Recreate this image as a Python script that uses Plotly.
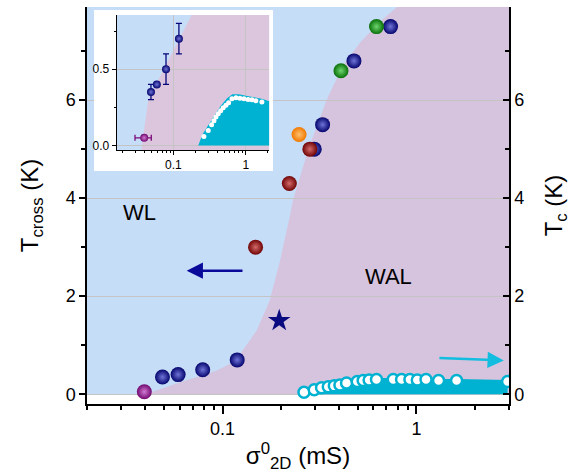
import math
import plotly.graph_objects as go

# ---------------- data ----------------
# main panel : T_cross (balls) vs sigma_2D^0
navy_x = [0.049, 0.059, 0.079, 0.119, 0.297, 0.328, 0.476, 0.735]
navy_y = [0.35, 0.40, 0.50, 0.70, 5.0, 5.5, 6.8, 7.5]
maroon_x = [0.148, 0.221, 0.282]
maroon_y = [3.0, 4.3, 5.0]
green_x = [0.408, 0.622]
green_y = [6.6, 7.5]
orange_x = [0.248]
orange_y = [5.3]
purple_x = [0.0395]
purple_y = [0.05]
star_x = [0.196]
star_y = [1.5]

# main panel : Tc (open cyan circles, right axis)
tc_x = [0.263, 0.297, 0.324, 0.351, 0.377, 0.403, 0.436, 0.495, 0.531, 0.570,
        0.622, 0.759, 0.838, 0.925, 1.01, 1.12, 1.30, 1.61, 2.95]
tc_y = [0.04, 0.09, 0.13, 0.15, 0.17, 0.19, 0.23, 0.26, 0.28, 0.29,
        0.30, 0.30, 0.30, 0.30, 0.29, 0.30, 0.28, 0.28, 0.26]

# WL / WAL boundary (main)
bound_x = [0.040, 0.060, 0.093, 0.118, 0.127, 0.150, 0.175, 0.198, 0.222, 0.231,
           0.277, 0.344, 0.417, 0.511, 0.647, 0.793]
bound_y = [0.0, 0.24, 0.48, 0.69, 0.89, 1.30, 1.91, 2.73, 3.62, 3.96,
           5.0, 6.0, 6.7, 7.17, 7.6, 7.9]

# inset data
in_ball_x = [0.049, 0.059, 0.079, 0.119]
in_ball_y = [0.35, 0.40, 0.50, 0.70]
in_ball_err = [0.05, 0.0, 0.10, 0.10]
in_purple_x = [0.0395]
in_purple_y = [0.05]
in_purple_errx = [0.01]
in_tc_x = [0.263, 0.302, 0.336, 0.362, 0.386, 0.415, 0.448, 0.486, 0.530, 0.577,
           0.641, 0.728, 0.826, 0.938, 1.07, 1.21, 1.37, 1.66]
in_tc_y = [0.059, 0.098, 0.135, 0.162, 0.186, 0.207, 0.227, 0.247, 0.264, 0.279,
           0.306, 0.312, 0.310, 0.306, 0.301, 0.299, 0.293, 0.284]
in_dome_x = [0.22, 0.25, 0.30, 0.36, 0.45, 0.55, 0.65, 0.80, 1.0, 1.3, 1.7, 2.1]
in_dome_y = [0.0, 0.07, 0.13, 0.19, 0.26, 0.31, 0.335, 0.335, 0.325, 0.315, 0.305, 0.29]
in_bound_x = [0.036, 0.045, 0.09, 0.18]
in_bound_y = [-0.03, 0.30, 0.58, 0.86]

# axes / ticks
X_RANGE = [0.02, 3.0]
Y_RANGE = [-0.2, 7.9]
IN_X_RANGE = [0.0165, 2.1]
IN_Y_RANGE = [-0.03, 0.855]
y_major = [0, 2, 4, 6]
y_minor = [1, 3, 5, 7]
x_major = [0.1, 1]
x_major_text = ["0.1", "1"]
x_minor = [0.02, 0.03, 0.04, 0.05, 0.06, 0.07, 0.08, 0.09,
           0.2, 0.3, 0.4, 0.5, 0.6, 0.7, 0.8, 0.9, 2, 3]
in_y_major = [0.0, 0.5]
in_y_minor = [0.25, 0.75]

# ---------------- style ----------------
BLUE_BG = "#c6ddf8"
PINK_BG = "#d6c3dd"
IN_PINK = "#dcc6de"
CYAN = "#00b2d2"
GRID = "#c4c4c4"
FONT = "Liberation Sans, Arial, sans-serif"

lx = [math.log10(v) for v in X_RANGE]
ilx = [math.log10(v) for v in IN_X_RANGE]

fig = go.Figure()

# ---- subplot A (x,y): background regions of the main panel
fig.add_trace(go.Scatter(x=X_RANGE, y=[Y_RANGE[1]] * 2, mode="none", fill="tozeroy",
                         fillcolor=BLUE_BG, xaxis="x", yaxis="y", hoverinfo="skip"))
pink_x = bound_x + [X_RANGE[1], X_RANGE[1]]
pink_y = bound_y + [Y_RANGE[1], 0.0]
fig.add_trace(go.Scatter(x=pink_x, y=pink_y, mode="none", fill="toself",
                         fillcolor=PINK_BG, xaxis="x", yaxis="y", hoverinfo="skip"))

# ---- subplot B (x2,y2): main axes with grid, data on top
def ball(xs, ys, dark, light, size=15, axes=("x2", "y2")):
    return go.Scatter(x=xs, y=ys, mode="markers", xaxis=axes[0], yaxis=axes[1],
                      marker=dict(size=size, color=dark, line=dict(width=0),
                                  gradient=dict(type="radial", color=light)))

fig.add_trace(ball(navy_x, navy_y, "#04046e", "#6f74d6"))
fig.add_trace(ball(maroon_x, maroon_y, "#700404", "#d46a6a"))
fig.add_trace(ball(green_x, green_y, "#087008", "#6fd66f"))
fig.add_trace(ball(orange_x, orange_y, "#f07800", "#ffc070"))
fig.add_trace(ball(purple_x, purple_y, "#700870", "#d27ad2"))
fig.add_trace(go.Scatter(x=star_x, y=star_y, mode="markers", xaxis="x2", yaxis="y2",
                         marker=dict(symbol="star", size=17, color="#0a0a80",
                                     line=dict(width=0))))

# Tc on right axis
fig.add_trace(go.Scatter(x=tc_x, y=tc_y, mode="lines+markers", xaxis="x2", yaxis="y6",
                         fill="tozeroy", fillcolor=CYAN,
                         line=dict(color=CYAN, width=3),
                         marker=dict(size=11, color="white",
                                     line=dict(color=CYAN, width=2.5))))

# ---- subplot E (x3,y3): white box behind inset
fig.add_trace(go.Scatter(x=[0, 1], y=[1, 1], mode="none", fill="tozeroy",
                         fillcolor="white", xaxis="x3", yaxis="y3", hoverinfo="skip"))

# ---- subplot F (x4,y4): inset background regions
in_blue_x = [IN_X_RANGE[0], IN_X_RANGE[1], IN_X_RANGE[1], IN_X_RANGE[0]]
in_blue_y = [IN_Y_RANGE[0], IN_Y_RANGE[0], IN_Y_RANGE[1], IN_Y_RANGE[1]]
fig.add_trace(go.Scatter(x=in_blue_x, y=in_blue_y, mode="none", fill="toself",
                         fillcolor=BLUE_BG, xaxis="x4", yaxis="y4", hoverinfo="skip"))
in_pink_x = in_bound_x + [IN_X_RANGE[1], IN_X_RANGE[1]]
in_pink_y = in_bound_y + [IN_Y_RANGE[1], IN_Y_RANGE[0]]
fig.add_trace(go.Scatter(x=in_pink_x, y=in_pink_y, mode="none", fill="toself",
                         fillcolor=IN_PINK, xaxis="x4", yaxis="y4", hoverinfo="skip"))

# ---- subplot D (x5,y5): inset data
fig.add_trace(go.Scatter(x=in_dome_x, y=in_dome_y, mode="none", fill="tozeroy",
                         fillcolor=CYAN, xaxis="x5", yaxis="y5", hoverinfo="skip"))
fig.add_trace(go.Scatter(x=in_tc_x, y=in_tc_y, mode="markers", xaxis="x5", yaxis="y5",
                         marker=dict(size=5, color="white", line=dict(width=0))))
fig.add_trace(go.Scatter(x=in_ball_x, y=in_ball_y, mode="markers", xaxis="x5", yaxis="y5",
                         error_y=dict(type="data", array=in_ball_err, color="#06067a",
                                      thickness=1.3, width=3),
                         marker=dict(size=8, color="#04046e", line=dict(width=0),
                                     gradient=dict(type="radial", color="#6f74d6"))))
fig.add_trace(go.Scatter(x=in_purple_x, y=in_purple_y, mode="markers", xaxis="x5", yaxis="y5",
                         error_x=dict(type="data", array=in_purple_errx, color="#7a0a7a",
                                      thickness=1.3, width=3),
                         marker=dict(size=8, color="#700870", line=dict(width=0),
                                     gradient=dict(type="radial", color="#d27ad2"))))

# ---------------- layout ----------------
W, H = 577, 476
L, R, T, B = 87, 68, 7, 72
pw, ph = W - L - R, H - T - B

def px2dom_x(p):
    return (p - L) / pw

def px2dom_y(p):
    return (H - B - p) / ph

inset_dom_x = [px2dom_x(116.7), px2dom_x(269.3)]
inset_dom_y = [px2dom_y(150), px2dom_y(15)]
box_dom_x = [px2dom_x(94), px2dom_x(273)]
box_dom_y = [px2dom_y(171), px2dom_y(10)]

tickfont = dict(family=FONT, size=18, color="black")
titlefont = dict(family=FONT, size=24, color="black")
hidden = dict(visible=False, showgrid=False, zeroline=False, fixedrange=True)
line_kw = dict(showline=True, linecolor="black", linewidth=1.5, zeroline=False)

fig.update_layout(
    width=W, height=H,
    margin=dict(l=L, r=R, t=T, b=B, pad=0),
    paper_bgcolor="white", plot_bgcolor="rgba(0,0,0,0)",
    showlegend=False,
    font=dict(family=FONT, color="black"),
    xaxis=dict(type="log", range=lx, domain=[0, 1], anchor="y", **hidden),
    yaxis=dict(range=Y_RANGE, domain=[0, 1], anchor="x", **hidden),
    xaxis2=dict(type="log", range=lx, domain=[0, 1], anchor="y2", showgrid=False,
                tickmode="array", tickvals=x_major, ticktext=x_major_text,
                ticks="outside", ticklen=8, tickwidth=1.5, tickcolor="black",
                minor=dict(tickmode="array", tickvals=x_minor, ticks="outside",
                           ticklen=4, tickwidth=1.5, tickcolor="black", showgrid=False),
                tickfont=tickfont,
                title=dict(text="σ<sup>0</sup><sub>2D</sub> (mS)", font=titlefont, standoff=9),
                **line_kw),
    yaxis2=dict(range=Y_RANGE, domain=[0, 1], anchor="x2",
                tickmode="array", tickvals=y_major, ticks="outside", ticklen=6,
                tickwidth=1.5, tickcolor="black",
                minor=dict(tickmode="array", tickvals=y_minor, ticks="outside",
                           ticklen=4, tickwidth=1.5, tickcolor="black", showgrid=False),
                showgrid=True, gridcolor=GRID, gridwidth=1.2,
                tickfont=tickfont,
                title=dict(text="T<sub>cross</sub> (K)", font=titlefont, standoff=20),
                **line_kw),
    xaxis6=dict(type="log", range=lx, overlaying="x2", side="top", anchor="y2",
                showgrid=False, showticklabels=False,
                tickmode="array", tickvals=x_major, ticks="inside", ticklen=8,
                tickwidth=1.5, tickcolor="black",
                minor=dict(tickmode="array", tickvals=x_minor, ticks="inside",
                           ticklen=4, tickwidth=1.5, tickcolor="black", showgrid=False),
                **line_kw),
    yaxis6=dict(range=Y_RANGE, overlaying="y2", side="right", anchor="x2",
                showgrid=False, tickmode="array", tickvals=y_major, ticks="inside",
                ticklen=6, tickwidth=1.5, tickcolor="black",
                minor=dict(tickmode="array", tickvals=y_minor, ticks="inside",
                           ticklen=4, tickwidth=1.5, tickcolor="black", showgrid=False),
                tickfont=tickfont,
                title=dict(text="T<sub>c</sub> (K)", font=titlefont, standoff=22),
                **line_kw),
    xaxis3=dict(range=[0, 1], domain=box_dom_x, anchor="y3", **hidden),
    yaxis3=dict(range=[0, 1], domain=box_dom_y, anchor="x3", **hidden),
    xaxis4=dict(type="log", range=ilx, domain=inset_dom_x, anchor="y4", **hidden),
    yaxis4=dict(range=IN_Y_RANGE, domain=inset_dom_y, anchor="x4", **hidden),
    xaxis5=dict(type="log", range=ilx, domain=inset_dom_x, anchor="y5",
                showgrid=True, gridcolor=GRID, gridwidth=1,
                tickmode="array", tickvals=x_major, ticktext=x_major_text,
                ticks="outside", ticklen=4, tickwidth=1, tickcolor="black",
                minor=dict(tickmode="array", tickvals=x_minor, ticks="outside",
                           ticklen=2, tickwidth=1, tickcolor="black", showgrid=False),
                tickfont=dict(family=FONT, size=12, color="black"),
                showline=True, linecolor="black", linewidth=1, zeroline=False),
    yaxis5=dict(range=IN_Y_RANGE, domain=inset_dom_y, anchor="x5",
                showgrid=True, gridcolor=GRID, gridwidth=1,
                tickmode="array", tickvals=in_y_major, tickformat=".1f",
                ticks="outside", ticklen=4, tickwidth=1, tickcolor="black",
                minor=dict(tickmode="array", tickvals=in_y_minor, ticks="outside",
                           ticklen=2, tickwidth=1, tickcolor="black", showgrid=False),
                tickfont=dict(family=FONT, size=12, color="black"),
                showline=True, linecolor="black", linewidth=1, zeroline=False),
    xaxis7=dict(type="log", range=ilx, overlaying="x5", side="top", anchor="y5",
                showgrid=False, showticklabels=False, tickmode="array", tickvals=x_major,
                ticks="inside", ticklen=4, tickwidth=1, tickcolor="black",
                minor=dict(tickmode="array", tickvals=x_minor, ticks="inside",
                           ticklen=2, tickwidth=1, tickcolor="black", showgrid=False),
                showline=True, linecolor="black", linewidth=1, zeroline=False),
    yaxis7=dict(range=IN_Y_RANGE, overlaying="y5", side="right", anchor="x5",
                showgrid=False, showticklabels=False, tickmode="array", tickvals=in_y_major,
                ticks="inside", ticklen=4, tickwidth=1, tickcolor="black",
                minor=dict(tickmode="array", tickvals=in_y_minor, ticks="inside",
                           ticklen=2, tickwidth=1, tickcolor="black", showgrid=False),
                showline=True, linecolor="black", linewidth=1, zeroline=False),
)

# region labels and arrows
labels = [("WL", 0.0371, 3.71), ("WAL", 0.721, 2.40)]
for txt, xv, yv in labels:
    fig.add_annotation(x=math.log10(xv), y=yv, xref="x2", yref="y2", text=txt,
                       showarrow=False, font=dict(family=FONT, size=22, color="black"))

arrows = [  # (head x, head y, tail x, tail y, color)
    (0.0653, 2.52, 0.129, 2.52, "#0a0a9a"),
    (2.82, 0.69, 1.29, 0.74, "#12bde0"),
]
for hx, hy, tx, ty, col in arrows:
    fig.add_annotation(x=math.log10(hx), y=hy, ax=math.log10(tx), ay=ty,
                       xref="x2", yref="y2", axref="x2", ayref="y2", text="",
                       showarrow=True, arrowhead=2, arrowsize=1.3, arrowwidth=2.5,
                       arrowcolor=col)

fig.write_html("out.html")
